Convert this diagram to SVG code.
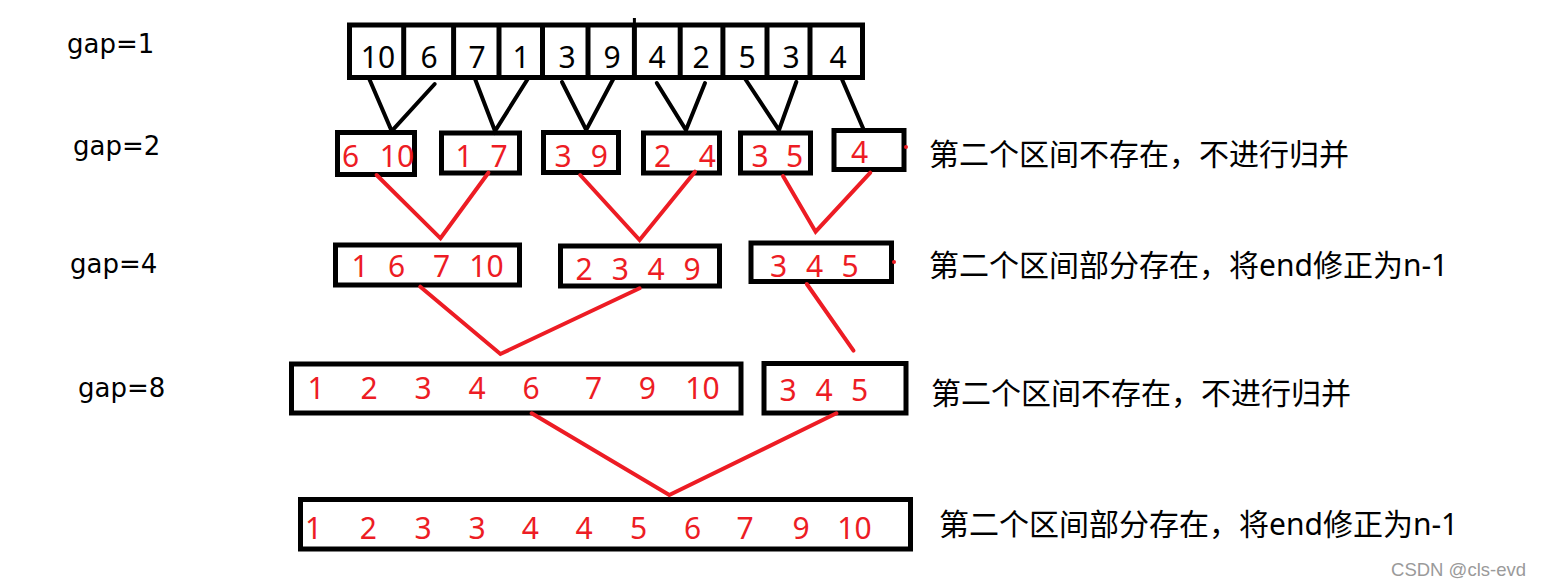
<svg xmlns="http://www.w3.org/2000/svg" width="1541" height="586" viewBox="0 0 1541 586">
<style>
.bg{fill:#fff}
.box{fill:none;stroke:#000;stroke-width:5}
.div{stroke:#000;stroke-width:5}
.bl{stroke:#000;stroke-width:4;stroke-linecap:round;fill:none}
.rl{stroke:#ED1C24;stroke-width:4;stroke-linecap:round;fill:none}
.lab{font-family:"DejaVu Sans",sans-serif;font-size:26px;fill:#000}
.bd{font-family:"Noto Sans",sans-serif;font-size:30px;fill:#000;text-anchor:middle}
.rd{font-family:"Noto Sans",sans-serif;font-size:30px;fill:#ED1C24;text-anchor:middle}
.note{font-family:"Noto Sans","Noto Sans CJK SC",sans-serif;font-size:30px;fill:#000}
.wm{font-family:"Liberation Sans",sans-serif;font-size:18.5px;fill:#9a9a9a;text-anchor:end}
</style>
<rect class="bg" x="0" y="0" width="1541" height="586"/>

<g id="labels">
<text class="lab" x="67" y="53">gap=1</text>
<text class="lab" x="73" y="155">gap=2</text>
<text class="lab" x="70" y="273">gap=4</text>
<text class="lab" x="78" y="397">gap=8</text>
</g>

<g id="array">
<rect class="box" x="349.5" y="25" width="513" height="52.5"/>
<line class="div" x1="403.7" y1="25" x2="403.7" y2="77.5"/>
<line class="div" x1="453.6" y1="25" x2="453.6" y2="77.5"/>
<line class="div" x1="499" y1="25" x2="499" y2="77.5"/>
<line class="div" x1="542.5" y1="25" x2="542.5" y2="77.5"/>
<line class="div" x1="588" y1="25" x2="588" y2="77.5"/>
<line class="div" x1="634.4" y1="25" x2="634.4" y2="77.5"/>
<line stroke="#000" stroke-width="3" x1="634.4" y1="18" x2="634.4" y2="24"/>
<line class="div" x1="680.2" y1="25" x2="680.2" y2="77.5"/>
<line class="div" x1="722.9" y1="25" x2="722.9" y2="77.5"/>
<line class="div" x1="767" y1="25" x2="767" y2="77.5"/>
<line class="div" x1="810" y1="25" x2="810" y2="77.5"/>
<text class="bd" x="378" y="68">10</text>
<text class="bd" x="429" y="68">6</text>
<text class="bd" x="477" y="68">7</text>
<text class="bd" x="521" y="68">1</text>
<text class="bd" x="567" y="68">3</text>
<text class="bd" x="612" y="68">9</text>
<text class="bd" x="657" y="68">4</text>
<text class="bd" x="701" y="68">2</text>
<text class="bd" x="747" y="68">5</text>
<text class="bd" x="791" y="68">3</text>
<text class="bd" x="838" y="68">4</text>
</g>

<g id="g2-1"><rect class="box" x="337.5" y="132.5" width="77" height="42"/><text class="rd" x="350.6" y="167">6</text><text class="rd" x="397" y="167">10</text></g>
<g id="g2-2"><rect class="box" x="441.5" y="133" width="78" height="40"/><text class="rd" x="464" y="167">1</text><text class="rd" x="499" y="167">7</text></g>
<g id="g2-3"><rect class="box" x="543.5" y="132.5" width="75" height="40"/><text class="rd" x="563" y="167">3</text><text class="rd" x="599.4" y="167">9</text></g>
<g id="g2-4"><rect class="box" x="643.5" y="133" width="76" height="40"/><text class="rd" x="662.5" y="167">2</text><text class="rd" x="707.3" y="167">4</text></g>
<g id="g2-5"><rect class="box" x="740.5" y="133" width="70" height="40"/><text class="rd" x="760" y="167">3</text><text class="rd" x="794.6" y="167">5</text></g>
<g id="g2-6"><rect class="box" x="834" y="130.5" width="70" height="39"/><text class="rd" x="859.6" y="163">4</text><circle cx="906" cy="147" r="2" fill="#ED1C24"/></g>

<g id="g4-1"><rect class="box" x="335.5" y="245" width="184" height="40"/><text class="rd" x="360.2" y="277">1</text><text class="rd" x="396.5" y="277">6</text><text class="rd" x="441.7" y="277">7</text><text class="rd" x="486.5" y="277">10</text></g>
<g id="g4-2"><rect class="box" x="560.5" y="246" width="159" height="40"/><text class="rd" x="584" y="280">2</text><text class="rd" x="620.4" y="280">3</text><text class="rd" x="656" y="280">4</text><text class="rd" x="692" y="280">9</text></g>
<g id="g4-3"><rect class="box" x="751" y="243" width="140.5" height="38.5"/><text class="rd" x="778.5" y="277">3</text><text class="rd" x="814.5" y="277">4</text><text class="rd" x="850" y="277">5</text><circle cx="894" cy="262" r="2" fill="#ED1C24"/></g>

<g id="g8-1"><rect class="box" x="291.5" y="364" width="449.5" height="49"/><text class="rd" x="316" y="399">1</text><text class="rd" x="369" y="399">2</text><text class="rd" x="423" y="399">3</text><text class="rd" x="477" y="399">4</text><text class="rd" x="531" y="399">6</text><text class="rd" x="593.5" y="399">7</text><text class="rd" x="647.3" y="399">9</text><text class="rd" x="702.4" y="399">10</text></g>
<g id="g8-2"><rect class="box" x="764" y="363.5" width="142" height="49.5"/><text class="rd" x="788" y="401">3</text><text class="rd" x="824" y="401">4</text><text class="rd" x="859.6" y="401">5</text></g>

<g id="final"><rect class="box" x="300.5" y="499.5" width="610" height="49.5"/><text class="rd" x="313.7" y="539">1</text><text class="rd" x="368.4" y="539">2</text><text class="rd" x="423" y="539">3</text><text class="rd" x="477" y="539">3</text><text class="rd" x="530.4" y="539">4</text><text class="rd" x="584" y="539">4</text><text class="rd" x="638.6" y="539">5</text><text class="rd" x="692.5" y="539">6</text><text class="rd" x="745" y="539">7</text><text class="rd" x="801" y="539">9</text><text class="rd" x="854.5" y="539">10</text></g>

<g id="connectors">
<polyline class="bl" points="369.3,79 391.7,131 434.7,84"/>
<polyline class="bl" points="474.3,77 495,131 527.7,79"/>
<polyline class="bl" points="562,82 586.2,130 613.8,78"/>
<polyline class="bl" points="656.8,83 686,130 705,83"/>
<polyline class="bl" points="744.6,78 779,130 796.3,82"/>
<line class="bl" x1="841" y1="77" x2="863.4" y2="129"/>
<polyline class="rl" points="376.6,175 440.5,238.3 488.4,172.7"/>
<polyline class="rl" points="580.2,175 639.6,240 695,171.7"/>
<polyline class="rl" points="783,176 815.6,231.7 870.3,172.7"/>
<polyline class="rl" points="420.3,286.7 500.4,354 639.6,288.3"/>
<line class="rl" x1="806.8" y1="284" x2="853.5" y2="350.7"/>
<polyline class="rl" points="531.7,413.3 669.3,495 836.4,413.3"/>
</g>

<g id="notes">
<text class="note" x="929" y="165">第二个区间不存在，不进行归并</text>
<text class="note" x="929" y="276">第二个区间部分存在，将end修正为n-1</text>
<text class="note" x="931" y="404">第二个区间不存在，不进行归并</text>
<text class="note" x="939" y="535">第二个区间部分存在，将end修正为n-1</text>
</g>
<text class="wm" x="1526" y="576">CSDN @cls-evd</text>
</svg>
